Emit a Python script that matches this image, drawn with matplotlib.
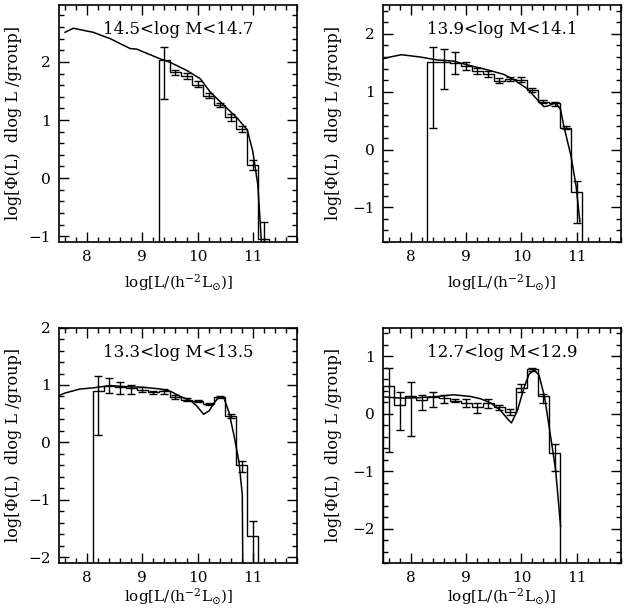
import numpy as np
import matplotlib
matplotlib.use('Agg')
import matplotlib.pyplot as plt
from matplotlib.ticker import MultipleLocator

plt.rcParams['font.family'] = ['DejaVu Serif']
plt.rcParams['mathtext.fontset'] = 'dejavuserif'

# panel titles (halo mass bins)
titles = ['14.5<log M<14.7', '13.9<log M<14.1', '13.3<log M<13.5', '12.7<log M<12.9']

# model curves
curve1_x = [7.60, 7.75, 8.11, 8.42, 8.78, 8.90, 9.33, 9.51, 9.81, 10.05, 10.23, 10.48, 10.72, 10.90, 11.00, 11.09, 11.17]
curve1_y = [2.51, 2.58, 2.51, 2.40, 2.23, 2.22, 2.05, 1.99, 1.85, 1.71, 1.48, 1.25, 1.03, 0.83, 0.46, -0.11, -1.30]

curve2_x = [7.50, 7.62, 7.83, 8.17, 8.47, 8.77, 9.08, 9.38, 9.68, 9.86, 10.11, 10.29, 10.41, 10.50, 10.62, 10.71, 10.77, 10.90, 10.99, 11.06]
curve2_y = [1.57, 1.60, 1.64, 1.60, 1.55, 1.53, 1.45, 1.38, 1.30, 1.21, 1.05, 0.86, 0.74, 0.76, 0.81, 0.69, 0.40, -0.12, -0.63, -1.25]

curve3_x = [7.50, 7.60, 7.87, 8.11, 8.42, 8.72, 9.02, 9.33, 9.51, 9.69, 9.87, 9.99, 10.11, 10.21, 10.30, 10.39, 10.48, 10.57, 10.66, 10.75, 10.81, 10.82]
curve3_y = [0.82, 0.86, 0.93, 0.95, 0.99, 0.97, 0.96, 0.93, 0.89, 0.80, 0.73, 0.63, 0.49, 0.55, 0.69, 0.79, 0.77, 0.52, 0.12, -0.34, -0.91, -2.30]

curve4_x = [7.53, 7.86, 8.17, 8.47, 8.77, 9.08, 9.26, 9.44, 9.62, 9.75, 9.82, 9.93, 10.05, 10.14, 10.23, 10.32, 10.42, 10.53, 10.62, 10.71]
curve4_y = [0.29, 0.27, 0.28, 0.30, 0.33, 0.30, 0.26, 0.19, 0.06, -0.09, -0.16, 0.06, 0.46, 0.69, 0.76, 0.67, 0.29, -0.40, -0.98, -1.96]

# histograms: bin centres, values, error bar ends
hist1_c = [9.4, 9.6, 9.8, 10.0, 10.2, 10.4, 10.6, 10.8, 11.0, 11.2]
hist1_v = [2.03, 1.82, 1.76, 1.61, 1.42, 1.26, 1.05, 0.85, 0.23, -1.05]
hist1_lo = [1.37, 1.78, 1.71, 1.56, 1.38, 1.22, 0.99, 0.80, 0.14, -1.40]
hist1_hi = [2.26, 1.86, 1.81, 1.67, 1.46, 1.30, 1.11, 0.90, 0.31, -0.75]

hist2_c = [8.4, 8.6, 8.8, 9.0, 9.2, 9.4, 9.6, 9.8, 10.0, 10.2, 10.4, 10.6, 10.8, 11.0]
hist2_v = [1.51, 1.52, 1.50, 1.45, 1.36, 1.30, 1.19, 1.22, 1.21, 1.03, 0.83, 0.80, 0.37, -0.73]
hist2_lo = [0.37, 1.04, 1.30, 1.38, 1.31, 1.26, 1.15, 1.18, 1.16, 0.99, 0.81, 0.76, 0.35, -1.27]
hist2_hi = [1.78, 1.74, 1.68, 1.52, 1.41, 1.35, 1.24, 1.25, 1.25, 1.07, 0.86, 0.83, 0.40, -0.55]

hist3_c = [8.2, 8.4, 8.6, 8.8, 9.0, 9.2, 9.4, 9.6, 9.8, 10.0, 10.2, 10.4, 10.6, 10.8, 11.0]
hist3_v = [0.90, 0.99, 0.97, 0.95, 0.92, 0.87, 0.89, 0.79, 0.74, 0.72, 0.67, 0.79, 0.46, -0.40, -1.63]
hist3_lo = [0.13, 0.86, 0.85, 0.84, 0.87, 0.85, 0.84, 0.76, 0.72, 0.70, 0.65, 0.77, 0.43, -0.51, -2.50]
hist3_hi = [1.16, 1.13, 1.06, 1.00, 0.96, 0.90, 0.93, 0.82, 0.77, 0.74, 0.69, 0.81, 0.49, -0.32, -1.36]

hist4_c = [7.6, 7.8, 8.0, 8.2, 8.4, 8.6, 8.8, 9.0, 9.2, 9.4, 9.6, 9.8, 10.0, 10.2, 10.4, 10.6]
hist4_v = [0.49, 0.16, 0.30, 0.24, 0.29, 0.28, 0.23, 0.19, 0.12, 0.19, 0.12, 0.03, 0.45, 0.78, 0.30, -0.69]
hist4_lo = [-0.66, -0.29, -0.39, 0.07, 0.12, 0.18, 0.20, 0.12, 0.02, 0.10, 0.06, -0.03, 0.38, 0.75, 0.18, -0.99]
hist4_hi = [0.80, 0.38, 0.55, 0.32, 0.38, 0.33, 0.26, 0.26, 0.19, 0.26, 0.16, 0.09, 0.51, 0.80, 0.35, -0.52]

ylims = [(-1.1, 2.98), (-1.6, 2.5), (-2.1, 2.0), (-2.6, 1.5)]

curves = [(curve1_x, curve1_y), (curve2_x, curve2_y), (curve3_x, curve3_y), (curve4_x, curve4_y)]
hists = [(hist1_c, hist1_v, hist1_lo, hist1_hi), (hist2_c, hist2_v, hist2_lo, hist2_hi),
         (hist3_c, hist3_v, hist3_lo, hist3_hi), (hist4_c, hist4_v, hist4_lo, hist4_hi)]

# axes placement (figure fractions)
boxes = [[0.0944, 0.6033, 0.377, 0.3885], [0.6084, 0.6033, 0.377, 0.3885],
         [0.0944, 0.0770, 0.377, 0.3860], [0.6084, 0.0770, 0.377, 0.3860]]

fig = plt.figure(figsize=(6.3, 6.1), dpi=100)
binw = 0.2

for i in range(4):
    ax = fig.add_axes(boxes[i])
    cx, cy = curves[i]
    ax.plot(cx, cy, color='k', lw=1.1)

    c, v, lo, hi = [np.array(a) for a in hists[i]]
    edges = np.append(c - binw / 2, c[-1] + binw / 2)
    ax.stairs(v, edges, baseline=-10, color='k', lw=1.0)
    ax.errorbar(c, v, yerr=[v - lo, hi - v], fmt='none', ecolor='k', elinewidth=1.0, capsize=3)

    ax.set_xlim(7.5, 11.8)
    ax.set_ylim(*ylims[i])
    ax.xaxis.set_major_locator(MultipleLocator(1))
    ax.xaxis.set_minor_locator(MultipleLocator(0.2))
    ax.yaxis.set_major_locator(MultipleLocator(1))
    ax.yaxis.set_minor_locator(MultipleLocator(0.2))
    ax.tick_params(which='both', direction='in', top=True, right=True, labelsize=11, width=1)
    ax.tick_params(which='major', length=7, pad=6)
    ax.tick_params(which='minor', length=3.5)
    for s in ax.spines.values():
        s.set_linewidth(1.2)

    ax.text(0.5, 0.895, titles[i], transform=ax.transAxes, ha='center', va='center', fontsize=12)

    ax.set_xlabel(r'log[L/(h$^{-2}$L$_{\odot}$)]', fontsize=11)
    ax.set_ylabel('log[Φ(L)  dlog L /group]', fontsize=11.5)
    if i < 2:
        ax.xaxis.set_label_coords(0.5, -0.127)
    else:
        ax.xaxis.set_label_coords(0.5, -0.098)
    if i % 2 == 0:
        ax.yaxis.set_label_coords(-0.158, 0.5)
    else:
        ax.yaxis.set_label_coords(-0.174, 0.5)

fig.savefig('out.png', dpi=100)
